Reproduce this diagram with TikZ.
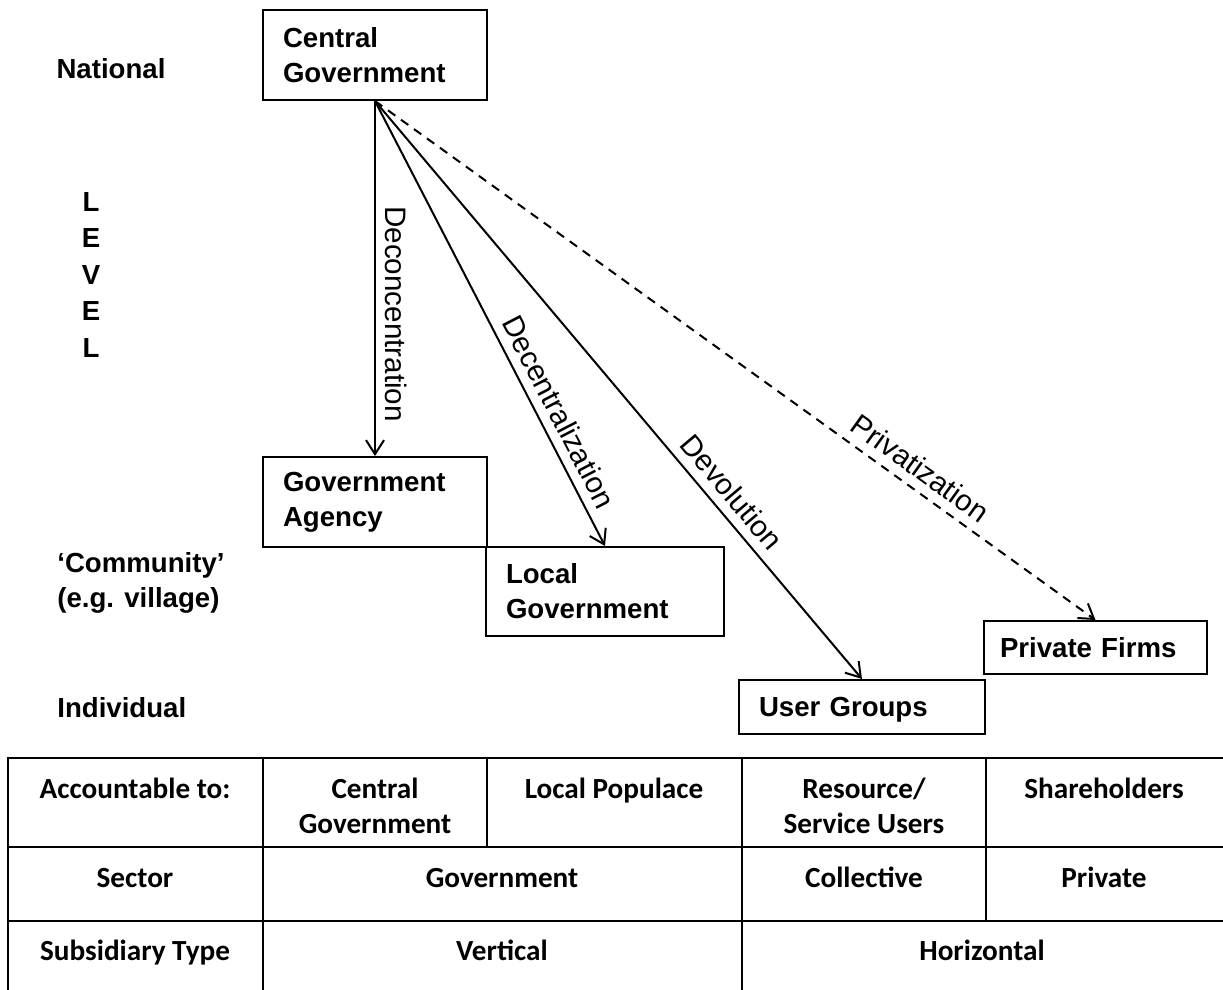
\documentclass[tikz,border=0pt]{standalone}
\usepackage{fontspec}
\setmainfont{Liberation Sans}
\newfontfamily\tablefont{Carlito}
\usetikzlibrary{arrows.meta}
\tikzstyle{box} = [rectangle, draw=black, line width=1pt, align=left, inner xsep=10pt, inner ysep=0pt, font=\bfseries\fontsize{13.8}{17.5}\selectfont]
\tikzstyle{level} = [inner sep=0pt, align=left, font=\bfseries\fontsize{13.8}{17.5}\selectfont]
\tikzstyle{edge} = [line width=1pt, -{Straight Barb[length=7pt,width=9pt]}]
\tikzstyle{arrowtext} = [sloped, above, inner sep=4.5pt, font=\fontsize{14.8}{17}\selectfont]
\tikzstyle{cell} = [inner sep=0pt, align=center, font=\tablefont\bfseries\fontsize{14.6}{17.5}\selectfont]
\tikzstyle{tableline} = [line width=1pt]

\begin{document}
\begin{tikzpicture}[x=0.5pt, y=-0.5pt]
\useasboundingbox (0,0) rectangle (1223,990);

% level labels
\node (nat) [level] at (111,69) {National};
\node (lvl) [level, align=center, font=\bfseries\fontsize{13.8}{18.25}\selectfont] at (91,275) {L\\E\\V\\E\\L};
\node (com) [level, anchor=west] at (57,583) {‘Community’\\(e.g. village)};
\node (ind) [level, anchor=west] at (57,708) {Individual};

% boxes
\node (cg) [box, minimum width=112pt, minimum height=45pt, text width=92pt] at (375,55) {Central\\Government};
\node (ga) [box, minimum width=112pt, minimum height=45pt, text width=92pt] at (375,502) {Government\\Agency};
\node (lg) [box, minimum width=119pt, minimum height=44.5pt, text width=99pt] at (605,591.5) {Local\\Government};
\node (ug) [box, text depth=0pt, minimum width=123pt, minimum height=27pt, text width=103pt] at (862,707) {User Groups};
\node (pf) [box, inner xsep=8pt, minimum width=111.5pt, minimum height=26.5pt, text width=95.5pt] at (1095.5,647.5) {Private Firms};

% arrows
\draw [edge] (cg.south) -- node[arrowtext, pos=0.6] {Deconcentration} (ga.north);
\draw [edge] (cg.south) -- node[arrowtext, pos=0.72] {Decentralization} (lg.north);
\draw [edge] (cg.south) -- node[arrowtext, pos=0.7] {Devolution} (ug.north);
\draw [edge, dash pattern=on 4.5pt off 3.5pt] (cg.south) -- node[arrowtext, pos=0.74] {Privatization} (pf.north);

% table
\draw [tableline] (8,990) -- (8,758) -- (1223,758);
\draw [tableline] (8,847) -- (1223,847);
\draw [tableline] (8,921) -- (1223,921);
\draw [tableline] (263,758) -- (263,990);
\draw [tableline] (487,758) -- (487,847);
\draw [tableline] (742,758) -- (742,990);
\draw [tableline] (986,758) -- (986,921);

\node (acc) [cell, anchor=base] at (135,798) {Accountable to:};
\node (acccg) [cell] at (375,805.5) {Central\\Government};
\node (accpop) [cell, anchor=base] at (614,798) {Local Populace};
\node (accusr) [cell] at (864,805.5) {Resource/\\Service Users};
\node (accsh) [cell, anchor=base] at (1104,798) {Shareholders};
\node (sec) [cell, anchor=base] at (135,887) {Sector};
\node (secgov) [cell, anchor=base] at (502,887) {Government};
\node (seccol) [cell, anchor=base] at (864,887) {Collective};
\node (secpri) [cell, anchor=base] at (1104,887) {Private};
\node (sub) [cell, anchor=base] at (135,960) {Subsidiary Type};
\node (subver) [cell, anchor=base] at (502,960) {Vertical};
\node (subhor) [cell, anchor=base] at (982,960) {Horizontal};

\end{tikzpicture}
\end{document}
